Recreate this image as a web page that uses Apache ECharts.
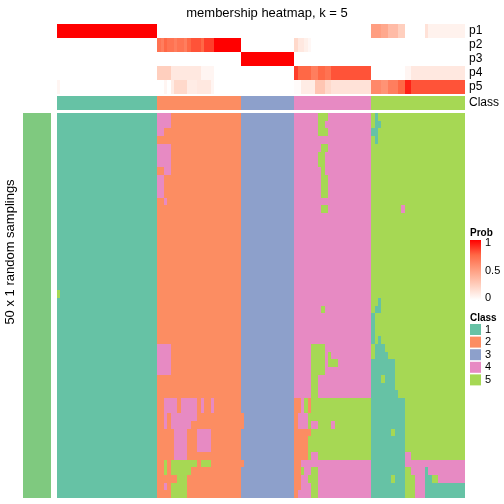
<!DOCTYPE html>
<html><head><meta charset="utf-8">
<script src="https://cdn.jsdelivr.net/npm/echarts/dist/echarts.min.js"></script>
<style>html,body{margin:0;padding:0;background:#fff}#c{width:504px;height:504px}</style>
</head><body><div id="c"></div>
<script>
const chartTitle = 'membership heatmap, k = 5';
const rowAxisName = '50 x 1 random samplings';
const leftBarLabel = 'top 1000 rows';
const annotRows = ['p1', 'p2', 'p3', 'p4', 'p5'];
const classLabels = ['1', '2', '3', '4', '5'];
const classColors = ['#66C2A5', '#FC8D62', '#8DA0CB', '#E78AC3', '#A6D854'];
const probTicks = ['1', '0.5', '0'];
const nSamples = 122;
const nSamplings = 50;

// run-length encoded: value:count
const classRun = '1:30,2:25,3:16,4:23,5:28';
const p1Run = '1:30,0:64,0.5:3,0.45:2,0.35:3,0.25:2,0:6,0.15:1,0.07:11';
const p2Run = '0:30,0.7:1,0.65:1,0.75:1,0.7:2,0.65:1,0.7:2,0.65:1,0.75:1,0.8:3,0.75:1,0.85:3,1:8,0:16,0.2:1,0.12:2,0.08:1,0.04:1,0:46';
const p3Run = '0:55,1:16,0:51';
const p4Run = '0:30,0.25:4,0.12:9,0.05:4,0:8,0:16,0.85:1,0.75:4,0.65:2,0.75:2,0.7:2,0.8:12,0:10,0.05:2,0.12:16';
const p5Run = '0.05:1,0:29,0:2,0.05:1,0:1,0.1:1,0.2:4,0.1:3,0.12:4,0.05:1,0:8,0:16,0.02:2,0.1:4,0.3:3,0.2:2,0.15:12,0.6:3,0.55:2,0.65:3,0.75:2,0.92:2,0.8:16';

// class of each sample in each random sampling (one string per row, top to bottom)
const samplingRows = [
  '1:30,4:4,2:21,3:16,4:7,5:3,4:13,5:1,1:1,5:26',
  '1:30,4:4,2:21,3:16,4:7,5:2,4:14,5:1,1:2,5:25',
  '1:30,4:2,2:23,3:16,4:7,5:3,4:13,1:2,5:26',
  '1:30,2:25,3:16,4:23,5:1,1:1,5:26',
  '1:30,4:4,2:21,3:16,4:8,5:2,4:13,5:28',
  '1:30,4:4,2:21,3:16,4:7,5:2,4:14,5:28',
  '1:30,4:4,2:21,3:16,4:7,5:2,4:14,5:28',
  '1:30,2:2,4:2,2:21,3:16,4:8,5:1,4:14,5:28',
  '1:30,4:2,2:23,3:16,4:8,5:2,4:13,5:28',
  '1:30,4:2,2:23,3:16,4:8,5:2,4:13,5:28',
  '1:30,4:2,2:23,3:16,4:8,5:2,4:13,5:28',
  '1:30,2:2,4:1,2:22,3:16,4:23,5:28',
  '1:30,2:25,3:16,4:8,5:2,4:13,5:9,4:1,5:18',
  '1:30,2:25,3:16,4:23,5:28',
  '1:30,2:25,3:16,4:23,5:28',
  '1:30,2:25,3:16,4:23,5:28',
  '1:30,2:25,3:16,4:23,5:28',
  '1:30,2:25,3:16,4:23,5:28',
  '1:30,2:25,3:16,4:23,5:28',
  '1:30,2:25,3:16,4:23,5:28',
  '1:30,2:25,3:16,4:23,5:28',
  '1:30,2:25,3:16,4:23,5:28',
  '1:30,2:25,3:16,4:23,5:28',
  '5:1,1:29,2:25,3:16,4:23,5:28',
  '1:30,2:25,3:16,4:23,5:2,1:1,5:25',
  '1:30,2:25,3:16,4:8,5:1,4:14,5:1,1:2,5:25',
  '1:30,2:25,3:16,4:23,1:1,5:27',
  '1:30,2:25,3:16,4:23,1:1,5:27',
  '1:30,2:25,3:16,4:23,1:1,5:27',
  '1:30,2:25,3:16,4:23,1:1,5:1,1:1,5:25',
  '1:30,4:4,2:21,3:16,4:5,5:4,4:14,5:1,1:3,5:24',
  '1:30,4:4,2:21,3:16,4:5,5:4,4:1,5:1,4:12,5:1,1:4,5:23',
  '1:30,4:4,2:21,3:16,4:5,5:4,4:1,5:3,4:10,1:7,5:21',
  '1:30,4:4,2:21,3:16,4:5,5:4,4:14,1:7,5:21',
  '1:30,2:25,3:16,4:5,5:2,4:16,1:3,5:1,1:3,5:21',
  '1:30,2:25,3:16,4:5,5:2,4:16,1:7,5:21',
  '1:30,2:25,3:16,4:5,5:2,4:16,1:8,5:20',
  '1:30,2:2,4:4,2:1,4:5,2:1,4:1,2:2,4:1,2:8,3:16,2:2,4:1,5:1,2:1,5:18,1:10,5:18',
  '1:30,2:2,4:4,2:1,4:5,2:1,4:1,2:2,4:1,2:8,3:16,2:2,4:1,5:1,2:1,5:18,1:10,5:18',
  '1:30,2:2,4:1,2:1,4:8,2:14,3:15,2:1,4:3,5:19,1:10,5:18',
  '1:30,2:2,4:1,2:1,4:6,2:16,3:15,2:1,4:3,5:1,4:2,5:4,4:1,5:11,1:10,5:18',
  '1:30,2:5,4:4,2:3,4:4,2:9,3:16,2:5,5:18,1:6,5:1,1:3,5:18',
  '1:30,2:5,4:4,2:3,4:4,2:9,3:16,2:4,5:19,1:10,5:18',
  '1:30,2:5,4:4,2:3,4:4,2:9,3:16,2:4,5:19,1:10,5:18',
  '1:30,2:5,4:4,2:16,3:16,2:4,5:1,4:2,5:16,1:10,4:2,5:16',
  '1:30,2:2,5:1,2:1,5:8,2:1,5:3,2:10,3:15,2:2,4:21,1:10,4:18',
  '1:30,2:2,5:1,2:1,5:6,2:15,3:16,2:2,5:1,4:2,5:2,4:16,1:10,5:2,4:4,1:1,4:11',
  '1:30,2:6,5:3,2:16,3:16,2:2,4:2,5:3,4:16,1:6,5:1,1:3,5:3,4:3,1:2,5:2,4:8',
  '1:30,2:2,4:1,2:1,5:5,2:16,3:16,2:2,4:3,5:2,4:16,1:10,5:3,4:3,1:12',
  '1:30,2:4,5:5,2:16,3:16,2:1,4:4,5:2,4:16,1:10,5:3,4:3,1:12'
];

function expand(run) {
  const out = [];
  run.split(',').forEach(function (seg) {
    const parts = seg.split(':');
    const v = parseFloat(parts[0]), n = parseInt(parts[1], 10);
    for (let i = 0; i < n; i++) out.push(v);
  });
  return out;
}

const sampleIdx = [];
for (let i = 0; i < nSamples; i++) sampleIdx.push(String(i));
const rowIdx = [];
for (let i = 0; i < nSamplings; i++) rowIdx.push(String(i));

const probData = [];
[p1Run, p2Run, p3Run, p4Run, p5Run].forEach(function (run, r) {
  expand(run).forEach(function (v, c) { probData.push([c, r, v]); });
});
const classData = expand(classRun).map(function (v, c) { return [c, 0, v]; });
const mainData = [];
samplingRows.forEach(function (run, r) {
  expand(run).forEach(function (v, c) { mainData.push([c, r, v]); });
});

// cell edges computed from the axis origin and band size so neighbours share the same rounded edge
function cellRender(params, api) {
  const x = api.value(0), y = api.value(1);
  const o = api.coord([0, 0]);
  const s = api.size([1, 1]);
  const bx = o[0] - s[0] / 2, by = o[1] - s[1] / 2;
  const x0 = Math.round(bx + x * s[0]), x1 = Math.round(bx + (x + 1) * s[0]);
  const y0 = Math.round(by + y * s[1]), y1 = Math.round(by + (y + 1) * s[1]);
  return { type: 'rect', shape: { x: x0, y: y0, width: x1 - x0, height: y1 - y0 },
    style: { fill: api.visual('color') } };
}

const FONT = 'Liberation Sans, Arial, sans-serif';
const hidden = { show: false };
function catX(gi) {
  return { type: 'category', gridIndex: gi, data: sampleIdx, show: false, boundaryGap: true };
}
function catYRight(gi, data) {
  return { type: 'category', gridIndex: gi, data: data, inverse: true, position: 'right',
    axisLine: hidden, axisTick: hidden, splitLine: hidden,
    axisLabel: { show: true, interval: 0, color: '#000', fontSize: 12, fontFamily: FONT, margin: 4 } };
}

const probGrad = ['#FFFFFF', '#FFCFBE', '#FF9E81', '#FF6846', '#FF0000'];

const option = {
  backgroundColor: '#fff',
  animation: false,
  title: { text: chartTitle, left: 262, top: 2, textAlign: 'center',
    textStyle: { fontSize: 13, fontWeight: 'normal', color: '#000', fontFamily: FONT } },
  grid: [
    { left: 57, top: 24, width: 408, height: 70 },
    { left: 57, top: 96, width: 408, height: 14 },
    { left: 57, top: 113, width: 408, height: 385 },
    { left: 23, top: 113, width: 28, height: 385 }
  ],
  xAxis: [catX(0), catX(1), catX(2),
    { type: 'category', gridIndex: 3, data: ['a'], show: false }],
  yAxis: [catYRight(0, annotRows), catYRight(1, ['Class']),
    { type: 'category', gridIndex: 2, data: rowIdx, inverse: true, show: false },
    { type: 'category', gridIndex: 3, data: ['a'], show: false }],
  visualMap: [
    { type: 'continuous', show: false, min: 0, max: 1, seriesIndex: 0, dimension: 2,
      inRange: { color: probGrad } },
    { type: 'piecewise', show: true, seriesIndex: [1, 2], dimension: 2,
      pieces: classLabels.map(function (l, i) { return { value: i + 1, label: l, color: classColors[i] }; }),
      orient: 'vertical', align: 'left', inverse: true, left: 470, top: 324, padding: 0,
      itemWidth: 11, itemHeight: 11, itemGap: 1.6,
      itemSymbol: 'rect', textGap: 4, selectedMode: false,
      textStyle: { fontSize: 11, color: '#000', fontFamily: FONT } },
    { type: 'piecewise', show: false, seriesIndex: 3, dimension: 2,
      pieces: [{ value: 1, color: '#7FC97F' }] }
  ],
  series: [
    { type: 'custom', xAxisIndex: 0, yAxisIndex: 0, data: probData, renderItem: cellRender, encode: { x: 0, y: 1 } },
    { type: 'custom', xAxisIndex: 1, yAxisIndex: 1, data: classData, renderItem: cellRender, encode: { x: 0, y: 1 } },
    { type: 'custom', xAxisIndex: 2, yAxisIndex: 2, data: mainData, renderItem: cellRender, encode: { x: 0, y: 1 } },
    { type: 'custom', xAxisIndex: 3, yAxisIndex: 3, data: [[0, 0, 1]], renderItem: cellRender, encode: { x: 0, y: 1 } }
  ],
  graphic: [
    { type: 'text', x: 10, y: 252, rotation: Math.PI / 2,
      style: { text: rowAxisName, x: 0, y: 0, textAlign: 'center', textVerticalAlign: 'middle',
        fontSize: 13, fill: '#000', fontFamily: FONT } },
    { type: 'text', x: 37, y: 305, rotation: Math.PI / 2,
      style: { text: leftBarLabel, x: 0, y: 0, textAlign: 'center', textVerticalAlign: 'middle',
        fontSize: 9, fill: '#000', fontFamily: FONT } },
    { type: 'text', x: 470, y: 233,
      style: { text: 'Prob', textVerticalAlign: 'middle', fontSize: 10, fontWeight: 'bold', fill: '#000', fontFamily: FONT } },
    { type: 'rect', shape: { x: 470, y: 240, width: 11, height: 60 },
      style: { fill: { type: 'linear', x: 0, y: 0, x2: 0, y2: 1,
        colorStops: probGrad.slice().reverse().map(function (c, i) { return { offset: i / 4, color: c }; }) } } },
    { type: 'text', x: 485, y: 243, style: { text: probTicks[0], textVerticalAlign: 'middle', fontSize: 11, fill: '#000', fontFamily: FONT } },
    { type: 'text', x: 485, y: 271, style: { text: probTicks[1], textVerticalAlign: 'middle', fontSize: 11, fill: '#000', fontFamily: FONT } },
    { type: 'text', x: 485, y: 298, style: { text: probTicks[2], textVerticalAlign: 'middle', fontSize: 11, fill: '#000', fontFamily: FONT } },
    { type: 'text', x: 470, y: 318,
      style: { text: 'Class', textVerticalAlign: 'middle', fontSize: 10, fontWeight: 'bold', fill: '#000', fontFamily: FONT } }
  ]
};

const chart = echarts.init(document.getElementById('c'), null, { renderer: 'canvas' });
chart.setOption(option);
</script>
</body></html>
